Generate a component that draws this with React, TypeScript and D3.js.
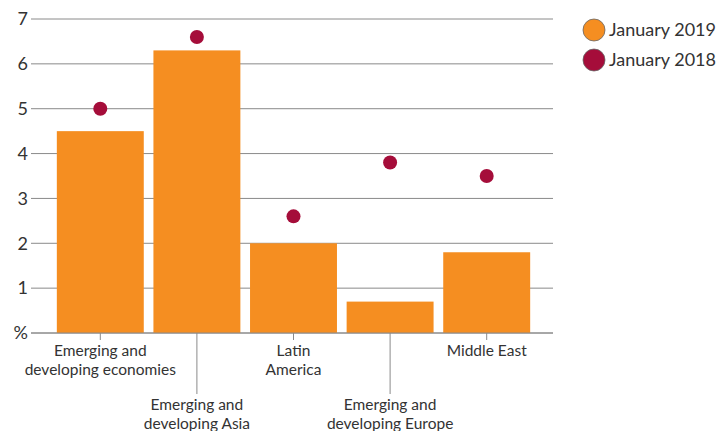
import React from "react";
import * as d3 from "d3";

const categories = [
  ["Emerging and", "developing economies"],
  ["Emerging and", "developing Asia"],
  ["Latin", "America"],
  ["Emerging and", "developing Europe"],
  ["Middle East"],
];
const jan2019 = [4.5, 6.3, 2.0, 0.7, 1.8];
const jan2018 = [5.0, 6.6, 2.6, 3.8, 3.5];
const yTicks = [0, 1, 2, 3, 4, 5, 6, 7];
const seriesNames = ["January 2019", "January 2018"];

const ORANGE = "#F58E21";
const RED = "#A50D3A";
const FONT = "Lato, 'Open Sans', sans-serif";

export default function App() {
  const W = 718, H = 431;
  const y = d3.scaleLinear().domain([0, 7]).range([333, 19]);
  const x = d3
    .scaleBand<number>()
    .domain(d3.range(categories.length))
    .range([52, 535])
    .paddingInner(0.1)
    .paddingOuter(0.05);
  const gridX0 = 31, gridX1 = 553;
  return (
    <svg width={W} height={H} style={{ position: "absolute", left: 0, top: 0 }} fontFamily={FONT}>
      {yTicks.map((t) => (
        <g key={t}>
          <line x1={gridX0} x2={gridX1} y1={y(t)} y2={y(t)} stroke="#8a8a8a" strokeWidth={1} />
          <text x={28} y={y(t)} dy="0.35em" textAnchor="end" fontSize={18} fill="#333">
            {t === 0 ? "%" : t}
          </text>
        </g>
      ))}
      {jan2019.map((v, i) => (
        <rect key={i} x={x(i)} y={y(v)} width={x.bandwidth()} height={y(0) - y(v)} fill={ORANGE} />
      ))}
      <line x1={gridX0} x2={gridX1} y1={y(0)} y2={y(0)} stroke="#8a8a8a" strokeWidth={1} />
      {jan2018.map((v, i) => (
        <circle key={i} cx={(x(i) as number) + x.bandwidth() / 2} cy={y(v)} r={7} fill={RED} />
      ))}
      {categories.map((lines, i) => {
        const cx = (x(i) as number) + x.bandwidth() / 2;
        const low = i % 2 === 1;
        const tickEnd = low ? 394 : 340;
        const y0 = low ? 405 : 351;
        return (
          <g key={i}>
            <line x1={cx} x2={cx} y1={y(0)} y2={tickEnd} stroke="#8a8a8a" strokeWidth={1} />
            {lines.map((l, j) => (
              <text key={j} x={cx} y={y0 + j * 19} dy="0.35em" textAnchor="middle" fontSize={15.5} fill="#333">
                {l}
              </text>
            ))}
          </g>
        );
      })}
      {seriesNames.map((s, i) => (
        <g key={s}>
          <circle cx={594} cy={30 + i * 30} r={11} fill={i === 0 ? ORANGE : RED} stroke="#666" strokeWidth={0.8} />
          <text x={609} y={30 + i * 30} dy="0.35em" fontSize={18} fill="#333">
            {s}
          </text>
        </g>
      ))}
    </svg>
  );
}
